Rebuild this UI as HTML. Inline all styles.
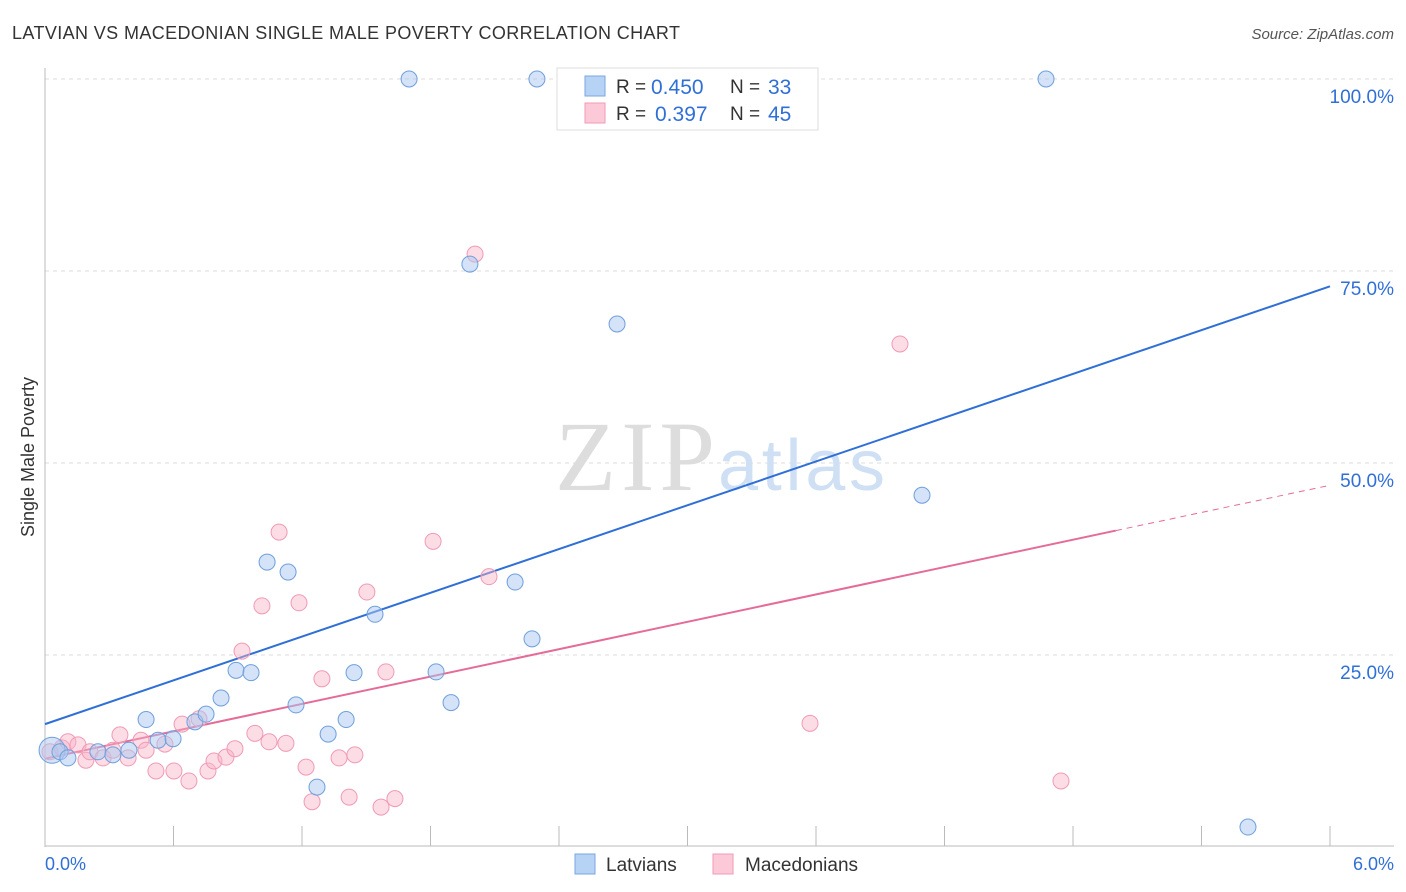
<!DOCTYPE html>
<html><head><meta charset="utf-8"><style>
body{margin:0;background:#fff;font-family:"Liberation Sans",sans-serif;}
svg{display:block}
</style></head><body>
<svg width="1406" height="892" id="chart">
<text x="12" y="39" font-size="18" fill="#333" textLength="668">LATVIAN VS MACEDONIAN SINGLE MALE POVERTY CORRELATION CHART</text>
<text x="1394" y="39" font-size="15" fill="#555" font-style="italic" text-anchor="end">Source: ZipAtlas.com</text>
<text x="34" y="457" font-size="18" fill="#333" transform="rotate(-90 34 457)" text-anchor="middle">Single Male Poverty</text>
<g id="grid"></g>
<text x="555" y="490" font-size="100" fill="#ddd" font-family="Liberation Serif" textLength="160">ZIP</text>
<text x="718" y="490" font-size="72" fill="#cfe0f5" textLength="167">atlas</text>
<g id="trend"></g>
<g id="pts"></g>
<g>
<rect x="557" y="68" width="261" height="62" fill="#fff" stroke="#ddd"/>
<rect x="585" y="76" width="20" height="20" fill="#b6d3f5" stroke="#7aa7e0"/>
<rect x="585" y="103" width="20" height="20" fill="#fbc9d8" stroke="#f09ab5"/>
<text x="616" y="93" font-size="19" fill="#333">R =</text>
<text x="651" y="94" font-size="21" fill="#2f6fd6">0.450</text>
<text x="730" y="93" font-size="19" fill="#333">N =</text>
<text x="768" y="94" font-size="21" fill="#2f6fd6">33</text>
<text x="616" y="120" font-size="19" fill="#333">R =</text>
<text x="655" y="121" font-size="21" fill="#2f6fd6">0.397</text>
<text x="730" y="120" font-size="19" fill="#333">N =</text>
<text x="768" y="121" font-size="21" fill="#2f6fd6">45</text>
</g>
<g>
<rect x="575" y="854" width="20" height="20" fill="#b6d3f5" stroke="#7aa7e0"/>
<text x="606" y="871" font-size="19" fill="#333">Latvians</text>
<rect x="713" y="854" width="20" height="20" fill="#fbc9d8" stroke="#f09ab5"/>
<text x="745" y="871" font-size="19" fill="#333">Macedonians</text>
</g>
<text x="45" y="870" font-size="18" fill="#2f6fd6">0.0%</text>
<text x="1394" y="870" font-size="18" fill="#2f6fd6" text-anchor="end">6.0%</text>
</svg>
<script>
const yTicks=[25,50,75,100];
const xTicks=[0,0.6,1.2,1.8,2.4,3.0,3.6,4.2,4.8,5.4,6.0];
const latX=[0.033,0.070,0.107,0.247,0.317,0.392,0.472,0.528,0.598,0.700,0.752,0.822,0.892,0.962,1.037,1.135,1.172,1.270,1.322,1.406,1.443,1.541,1.700,1.826,1.896,1.984,2.195,2.274,2.297,2.671,4.095,4.674,5.617];
const latY=[12.6,12.4,11.6,12.4,12.0,12.6,16.6,13.9,14.1,16.3,17.3,19.4,23.0,22.7,37.1,35.8,18.5,7.8,14.7,16.6,22.7,30.3,100,22.8,18.8,75.9,34.5,27.1,100,68.1,45.8,100,2.6];
const macX=[0.023,0.079,0.107,0.154,0.191,0.210,0.271,0.317,0.350,0.388,0.448,0.472,0.518,0.560,0.602,0.640,0.672,0.719,0.761,0.789,0.845,0.887,0.920,0.980,1.013,1.046,1.093,1.125,1.186,1.219,1.247,1.293,1.373,1.420,1.447,1.503,1.569,1.592,1.634,1.812,2.008,2.073,3.572,3.992,4.744];
const macY=[12.4,12.9,13.7,13.3,11.3,12.4,11.6,12.6,14.6,11.6,13.9,12.6,9.9,13.4,9.9,16.0,8.6,16.7,9.9,11.2,11.7,12.8,25.5,14.8,31.4,13.7,41.0,13.5,31.8,10.4,5.9,21.9,11.6,6.5,12.0,33.2,5.2,22.8,6.3,39.8,77.2,35.2,16.1,65.5,8.6];
const xs=v=>45+v/6*1285, ys=v=>847-v*7.68;
const NS="http://www.w3.org/2000/svg";
function mk(t,a,p){const e=document.createElementNS(NS,t);for(const k in a)e.setAttribute(k,a[k]);document.getElementById(p).appendChild(e);return e;}
yTicks.forEach(t=>{const l=mk('line',{x1:45,x2:1394,y1:ys(t),y2:ys(t),stroke:'#ddd','stroke-dasharray':'4 4'},'grid');


const tx=mk('text',{x:1394,y:ys(t)+24,'font-size':19,fill:'#2f6fd6','text-anchor':'end'},'grid');tx.textContent=t.toFixed(1)+'%';

});
mk('line',{x1:45,x2:45,y1:68,y2:847,stroke:'#bbb'},'grid');
mk('line',{x1:45,x2:1394,y1:846,y2:846,stroke:'#bbb'},'grid');
xTicks.forEach(t=>{const l=mk('line',{x1:xs(t),x2:xs(t),y1:826,y2:846,stroke:'#bbb'},'grid');

});
let b=mk('line',{x1:xs(0),y1:ys(16.0),x2:xs(6),y2:ys(73.0),stroke:'#2f6fd6','stroke-width':2},'trend');


let p=mk('line',{x1:xs(0),y1:ys(11.5),x2:xs(5),y2:ys(41.2),stroke:'#e56b98','stroke-width':2},'trend');


let pd=mk('line',{x1:xs(5),y1:ys(41.2),x2:xs(6),y2:ys(47.1),stroke:'#e56b98','stroke-width':1,'stroke-dasharray':'6 5'},'trend');


macX.forEach((x,i)=>{const c=mk('circle',{cx:xs(x),cy:ys(macY[i]),r:8,fill:'rgba(248,180,200,0.45)',stroke:'#f09ab5'},'pts');

});
latX.forEach((x,i)=>{const c=mk('circle',{cx:xs(x),cy:ys(latY[i]),r:i==0?13:8,fill:'rgba(170,200,240,0.5)',stroke:'#6f9fdc'},'pts');

});
</script>
</body></html>
